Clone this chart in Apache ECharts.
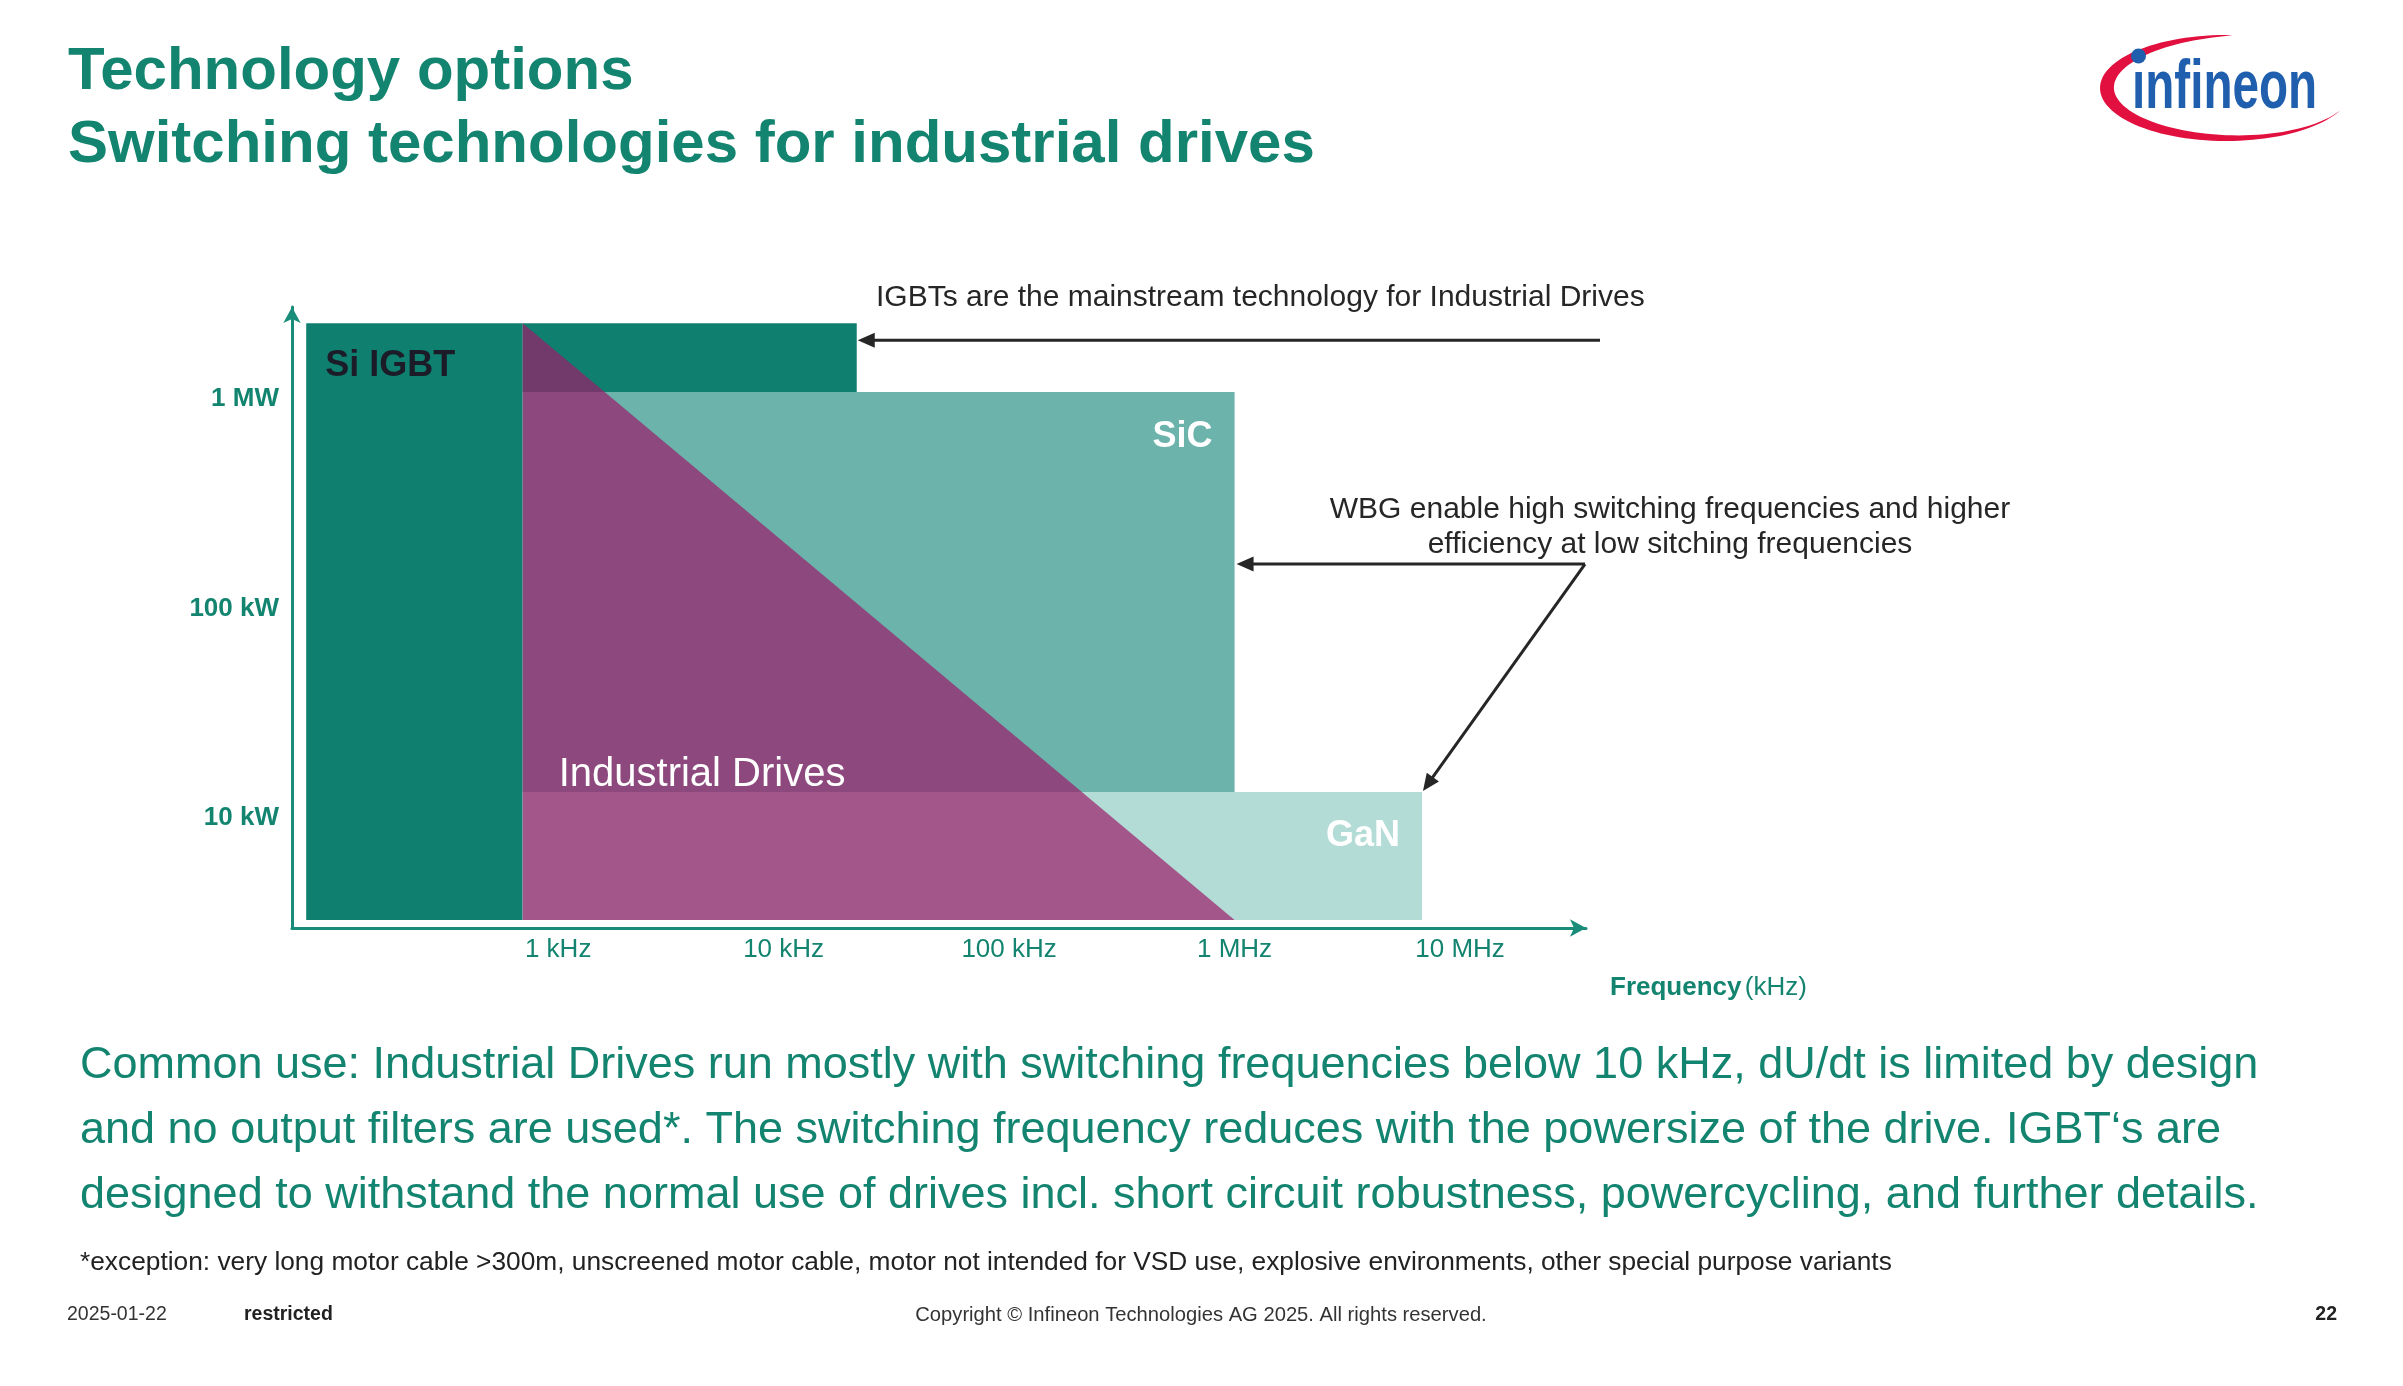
<!DOCTYPE html>
<html>
<head>
<meta charset="utf-8">
<script src="https://cdn.jsdelivr.net/npm/echarts@6/dist/echarts.min.js"></script>
<style>
html,body{margin:0;padding:0;background:#ffffff;}
#c{width:2403px;height:1386px;}
</style>
</head>
<body>
<div id="c"></div>
<script>
// ---------------- data ----------------
// frequency in kHz (log axis), power in kW (log axis)
const xTickLabels = {1: '1 kHz', 10: '10 kHz', 100: '100 kHz', 1000: '1 MHz', 10000: '10 MHz'};
const yTickLabels = {10: '10 kW', 100: '100 kW', 1000: '1 MW'};
// regions: [fMin, fMax, pMin, pMax]
const siIgbtColumn = [0.0763, 0.696, 3.25, 2300];
const siIgbtTop    = [0.696, 21.1, 1080, 2300];
const sicArea      = [0.696, 1000, 13.3, 1080];
const ganArea      = [0.696, 6780, 3.25, 13.3];
// Industrial Drives triangle vertices
const drivesFreq  = [0.696, 0.696, 1000];
const drivesPower = [2300, 3.25, 3.25];
// annotation anchors (data space)
const igbtArrowPower = 1910;
const wbgArrowPower = 163;

const texts = {
  title1: 'Technology options',
  title2: 'Switching technologies for industrial drives',
  igbtNote: 'IGBTs are the mainstream technology for Industrial Drives',
  wbgNote1: 'WBG enable high switching frequencies and higher',
  wbgNote2: 'efficiency at low sitching frequencies',
  body: [
    'Common use: Industrial Drives run mostly with switching frequencies below 10 kHz, dU/dt is limited by design',
    'and no output filters are used*. The switching frequency reduces with the powersize of the drive. IGBT\u2018s are',
    'designed to withstand the normal use of drives incl. short circuit robustness, powercycling, and further details.'
  ],
  footnote: '*exception: very long motor cable >300m, unscreened motor cable, motor not intended for VSD use, explosive environments, other special purpose variants',
  date: '2025-01-22',
  restricted: 'restricted',
  copyright: 'Copyright \u00a9 Infineon Technologies AG 2025. All rights reserved.',
  page: '22'
};

// ---------------- styling ----------------
const FONT = '"Liberation Sans", Arial, sans-serif';
const TEAL = '#13846f';
const AXIS = '#1a8c7a';
const C_IGBT = '#0f7f70';
const C_SIC = '#6bb3ab';
const C_GAN = '#b4dcd6';
const C_DRIVES = 'rgba(155,28,105,0.70)';

const chart = echarts.init(document.getElementById('c'), null, {renderer: 'canvas', width: 2403, height: 1386});

function decadeLabel(map) {
  return function (v) {
    const e = Math.log10(v);
    const r = Math.round(e);
    if (Math.abs(e - r) > 1e-6) return '';
    return map[Math.pow(10, r)] || '';
  };
}

function rectRender(params, api) {
  const tl = api.coord([api.value(0), api.value(3)]);
  const br = api.coord([api.value(1), api.value(2)]);
  return {
    type: 'rect',
    shape: {x: tl[0], y: tl[1], width: br[0] - tl[0], height: br[1] - tl[1]},
    style: {fill: api.visual('color')}
  };
}

chart.setOption({
  animation: false,
  backgroundColor: '#ffffff',
  grid: {left: 292, right: 817, top: 307, bottom: 458, containLabel: false},
  xAxis: {
    type: 'log', logBase: 10, min: 0.066, max: 36200,
    axisLine: {show: true, symbol: ['none', 'arrow'], symbolSize: [13, 16], lineStyle: {color: AXIS, width: 3}},
    axisTick: {show: false}, splitLine: {show: false}, minorTick: {show: false},
    axisLabel: {formatter: decadeLabel(xTickLabels), color: TEAL, fontSize: 26, fontFamily: FONT, margin: 9,
      showMinLabel: true, showMaxLabel: true}
  },
  yAxis: {
    type: 'log', logBase: 10, min: 2.98, max: 2750,
    axisLine: {show: true, symbol: ['none', 'arrow'], symbolSize: [13, 16], lineStyle: {color: AXIS, width: 3}},
    axisTick: {show: false}, splitLine: {show: false}, minorTick: {show: false},
    axisLabel: {formatter: decadeLabel(yTickLabels), color: TEAL, fontSize: 26, fontWeight: 'bold', fontFamily: FONT, margin: 13}
  },
  series: [
    {type: 'custom', name: 'Si IGBT', renderItem: rectRender, itemStyle: {color: C_IGBT},
     encode: {x: [0, 1], y: [2, 3]}, data: [siIgbtColumn, siIgbtTop], z: 1, silent: true},
    {type: 'custom', name: 'SiC', renderItem: rectRender, itemStyle: {color: C_SIC},
     encode: {x: [0, 1], y: [2, 3]}, data: [sicArea], z: 2, silent: true},
    {type: 'custom', name: 'GaN', renderItem: rectRender, itemStyle: {color: C_GAN},
     encode: {x: [0, 1], y: [2, 3]}, data: [ganArea], z: 2, silent: true},
    {type: 'custom', name: 'Industrial Drives', z: 3, silent: true,
     encode: {x: [0, 2, 4], y: [1, 3, 5]},
     data: [drivesFreq.flatMap((f, i) => [f, drivesPower[i]])],
     renderItem: function (params, api) {
       const pts = [0, 1, 2].map(i => api.coord([api.value(2 * i), api.value(2 * i + 1)]));
       return {type: 'polygon', shape: {points: pts}, style: {fill: C_DRIVES}};
     }}
  ]
});

// ---------------- annotations / page text ----------------
const px = (f, p) => chart.convertToPixel({gridIndex: 0}, [f, p]);

function txt(x, y, text, font, fill, align, extra) {
  return Object.assign({
    type: 'text', x: x, y: y, z: 100, silent: true,
    style: {text: text, font: font, fill: fill, align: align || 'left', verticalAlign: 'middle',
            textAlign: align || 'left', textVerticalAlign: 'middle'}
  }, extra || {});
}

function arrow(x1, y1, x2, y2, color) {
  const L = 17, W = 7.5;
  const dx = x2 - x1, dy = y2 - y1, len = Math.hypot(dx, dy);
  const ux = dx / len, uy = dy / len, nx = -uy, ny = ux;
  const bx = x2 - ux * L, by = y2 - uy * L;
  return [
    {type: 'line', z: 100, silent: true, shape: {x1: x1, y1: y1, x2: bx + ux * 2, y2: by + uy * 2},
     style: {stroke: color, lineWidth: 3}},
    {type: 'polygon', z: 100, silent: true,
     shape: {points: [[x2, y2], [bx + nx * W, by + ny * W], [bx - nx * W, by - ny * W]]},
     style: {fill: color}}
  ];
}

function swoosh(cx, cy, a, b, t0, t1, wmax, n) {
  const outer = [], inner = [];
  for (let i = 0; i <= n; i++) {
    const u = i / n;
    const t = (t0 + (t1 - t0) * u) * Math.PI / 180;
    const w = wmax * Math.pow(Math.sin(Math.PI * Math.pow(u, 1.3)), 0.8);
    const ct = Math.cos(t), st = Math.sin(t);
    outer.push([cx + a * ct, cy + b * st]);
    inner.push([cx + (a - w) * ct, cy + (b - w * 0.7) * st]);
  }
  return outer.concat(inner.reverse());
}

const colTL = px(siIgbtColumn[0], siIgbtColumn[3]);
const topBR = px(siIgbtTop[1], igbtArrowPower);
const sicTR = px(sicArea[1], sicArea[3]);
const sicArrow = px(sicArea[1], wbgArrowPower);
const ganTR = px(ganArea[1], ganArea[3]);
const drvLL = px(drivesFreq[1], drivesPower[1]);

const ink = '#262626';
const graphics = [
  // titles
  txt(68, 72, texts.title1, 'bold 60px ' + FONT, TEAL),
  txt(68, 145, texts.title2, 'bold 60px ' + FONT, TEAL),
  // region labels
  txt(colTL[0] + 19, colTL[1] + 43, 'Si IGBT', 'bold 36px ' + FONT, '#1c1c28'),
  txt(sicTR[0] - 22, sicTR[1] + 45, 'SiC', 'bold 36px ' + FONT, '#ffffff', 'right'),
  txt(ganTR[0] - 22, ganTR[1] + 44, 'GaN', 'bold 36px ' + FONT, '#ffffff', 'right'),
  txt(drvLL[0] + 36, ganTR[1] - 17, 'Industrial Drives', '40px ' + FONT, '#ffffff'),
  // annotations
  txt(876, 298, texts.igbtNote, '30px ' + FONT, ink),
  txt(1670, 510, texts.wbgNote1, '30px ' + FONT, ink, 'center'),
  txt(1670, 545, texts.wbgNote2, '30px ' + FONT, ink, 'center'),
  // axis name
  {type: 'text', x: 1610, y: 988, z: 100, silent: true,
   style: {text: '{b|Frequency} {r|(kHz)}', verticalAlign: 'middle', textVerticalAlign: 'middle',
     rich: {b: {font: 'bold 26px ' + FONT, fill: TEAL, color: TEAL},
            r: {font: '26px ' + FONT, fill: TEAL, color: TEAL}}}},
  // body text
  txt(80, 1066, texts.body[0], '45px ' + FONT, TEAL),
  txt(80, 1131, texts.body[1], '45px ' + FONT, TEAL),
  txt(80, 1196, texts.body[2], '45px ' + FONT, TEAL),
  txt(80, 1263, texts.footnote, '26.3px ' + FONT, '#222222'),
  // footer
  txt(67, 1315, texts.date, '19.5px ' + FONT, '#333333'),
  txt(244, 1315, texts.restricted, 'bold 19.5px ' + FONT, '#222222'),
  txt(1201, 1315, texts.copyright, '20.2px ' + FONT, '#333333', 'center'),
  txt(2337, 1315, texts.page, 'bold 19.5px ' + FONT, '#222222', 'right'),
  // logo
  {type: 'polygon', z: 100, silent: true, shape: {points: swoosh(2226, 88, 126, 53, 25, 273, 14, 80)},
   style: {fill: '#e2103f'}},
  {type: 'circle', z: 101, silent: true, shape: {cx: 2138.5, cy: 56, r: 7.5}, style: {fill: '#1f5fae'}},
  {type: 'text', z: 101, silent: true, x: 2132, y: 89, scaleX: 0.7,
   style: {text: '\u0131nfineon', font: 'bold 68px ' + FONT, fill: '#1f5fae', verticalAlign: 'middle', textVerticalAlign: 'middle'}}
];

graphics.push(...arrow(1600, topBR[1], topBR[0] + 1, topBR[1], ink));
graphics.push(...arrow(1585, sicArrow[1], sicArrow[0] + 2, sicArrow[1], ink));
graphics.push(...arrow(1585, sicArrow[1], ganTR[0] + 1, ganTR[1] - 1, ink));

chart.setOption({graphic: {elements: graphics}});
</script>
</body>
</html>
